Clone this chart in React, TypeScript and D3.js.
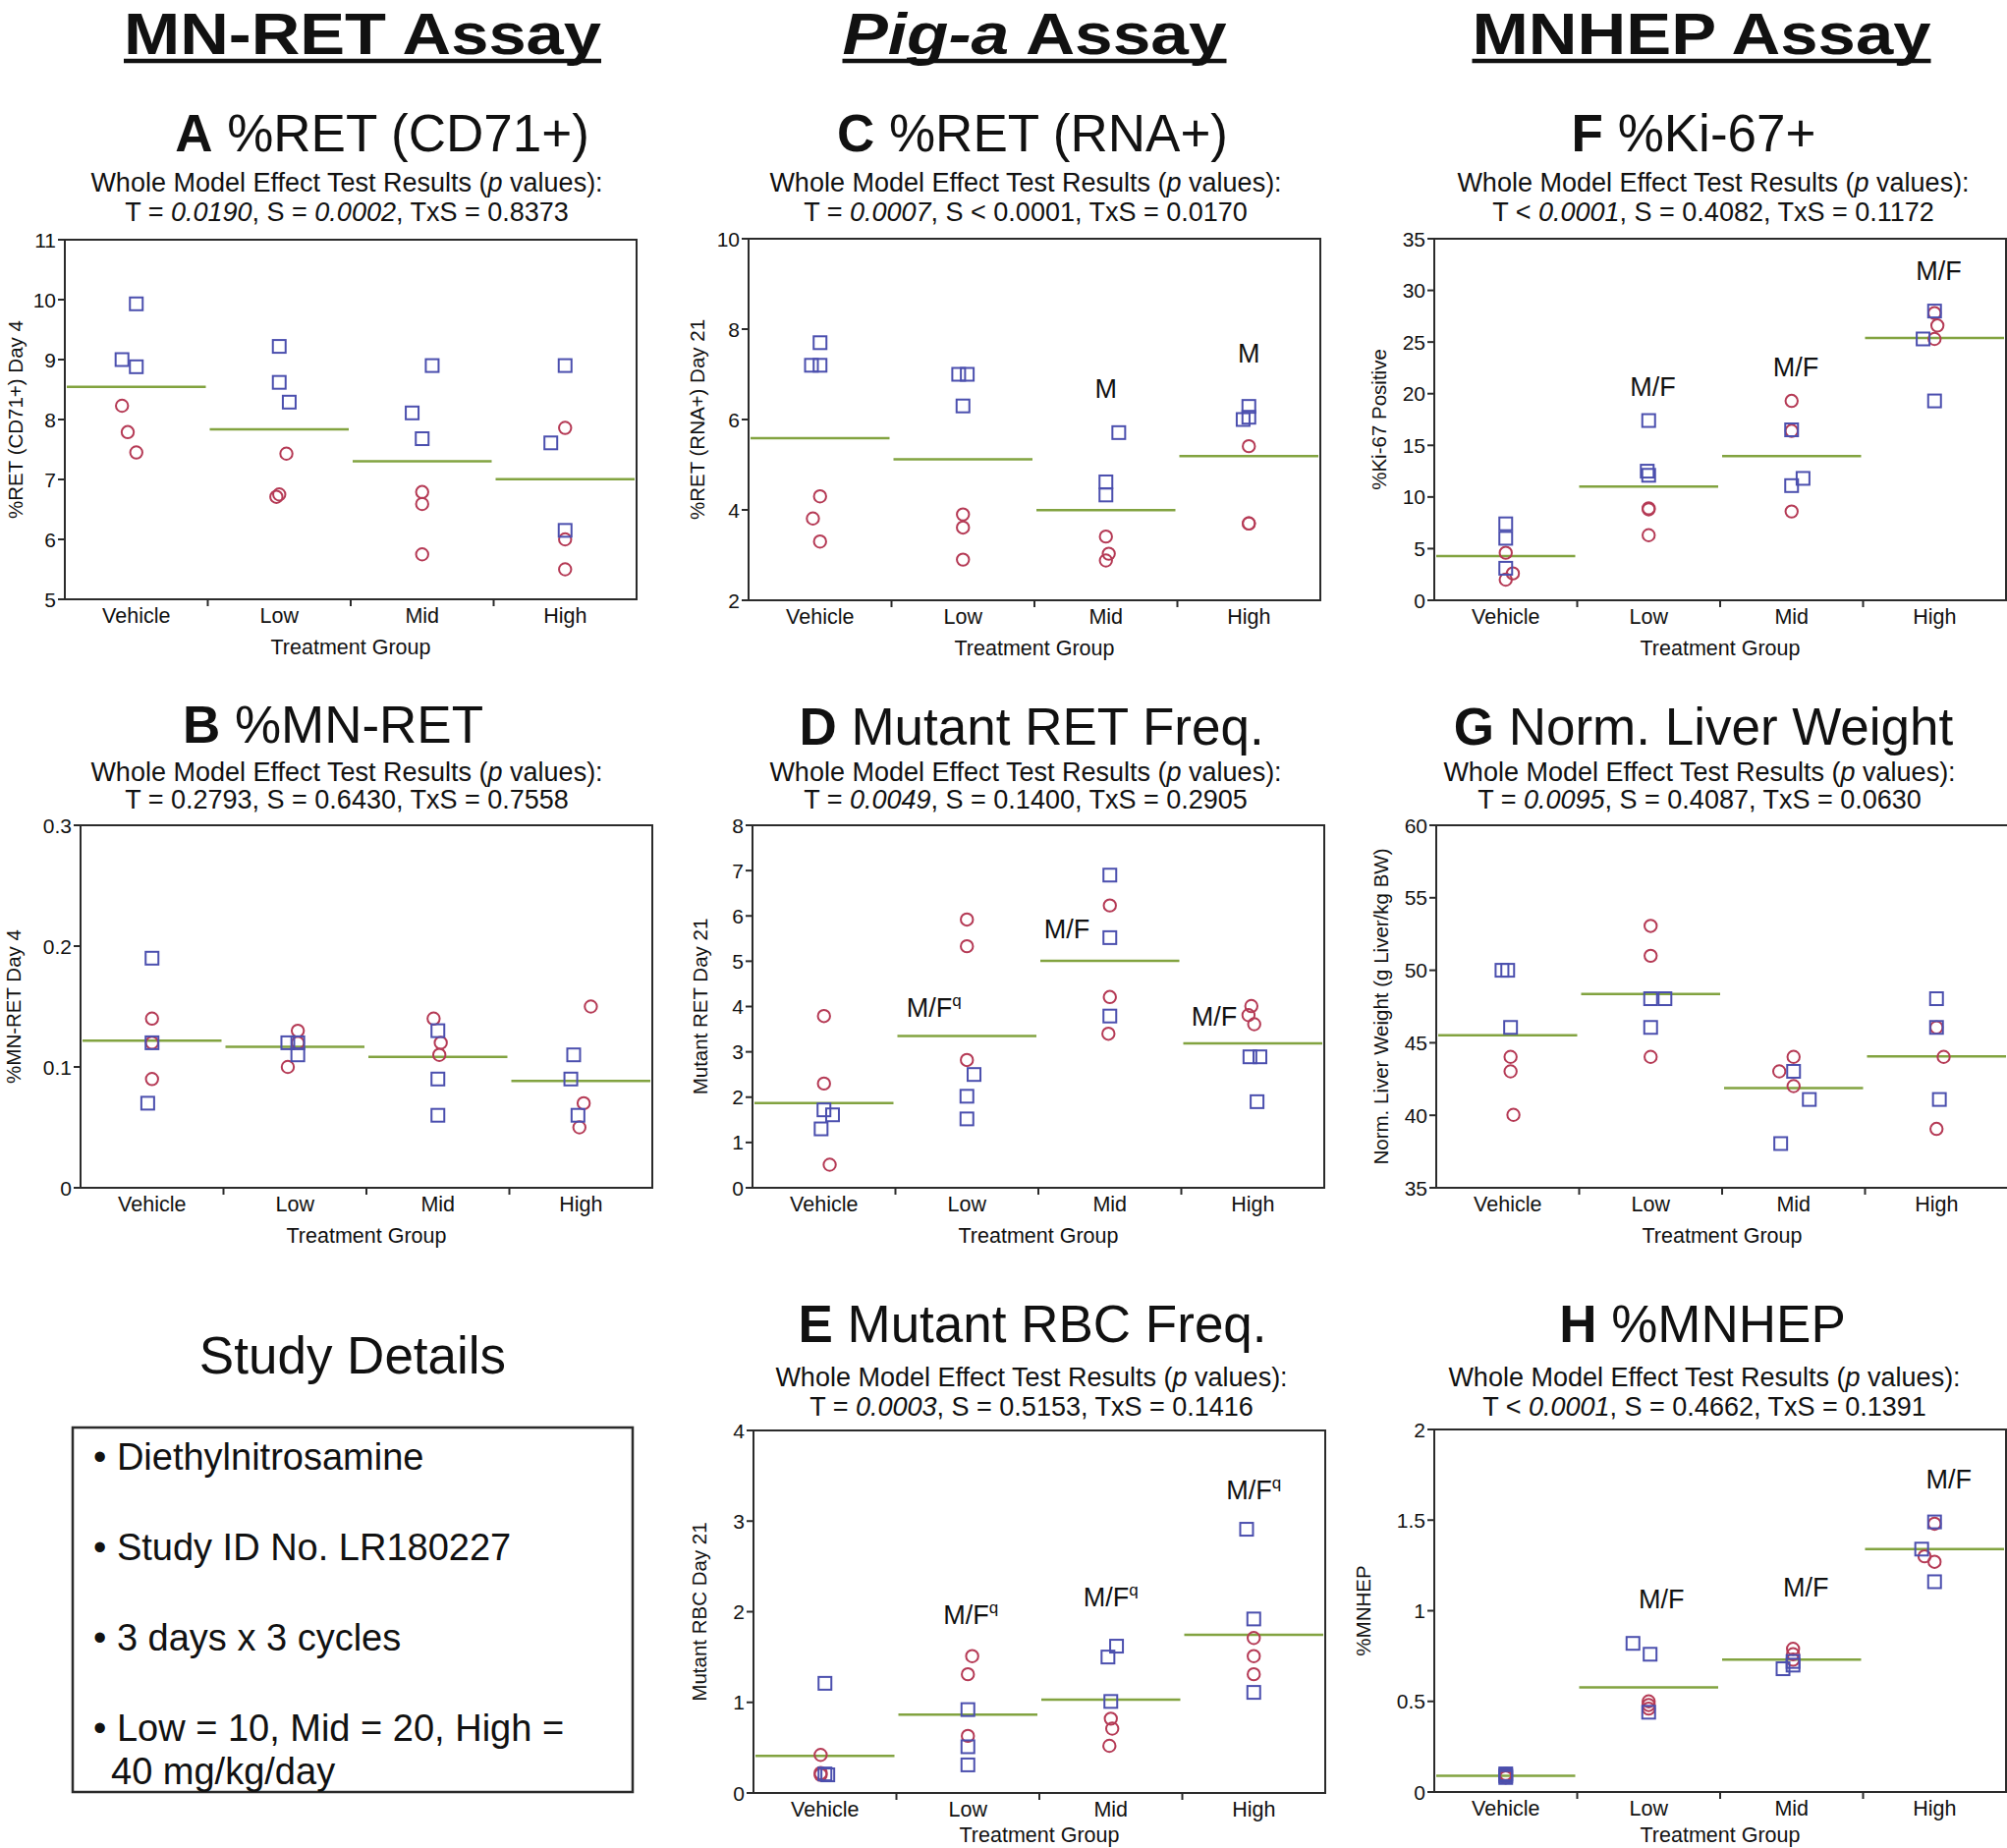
import React from 'react';
import * as d3 from 'd3';

// ---------------- DATA ----------------
const groups = ['Vehicle', 'Low', 'Mid', 'High'];

// Panel A: %RET (CD71+) Day 4
const aMale = [[9.93, 9.0, 8.88], [9.22, 8.62, 8.29], [8.9, 8.11, 7.68], [8.9, 7.61, 6.15]];
const aFemale = [[8.23, 7.79, 7.45], [7.43, 6.75, 6.71], [6.79, 6.59, 5.75], [7.86, 6.0, 5.5]];
const aMaleJit = [[0, -0.1, 0], [0, 0, 0.07], [0.07, -0.07, 0], [0, -0.1, 0]];
const aFemaleJit = [[-0.1, -0.06, 0], [0.05, 0, -0.02], [0, 0, 0], [0, 0, 0]];
const aTicks = [5, 6, 7, 8, 9, 10, 11];

// Panel B: %MN-RET Day 4
const bMale = [[0.19, 0.12, 0.07], [0.12, 0.12, 0.11], [0.13, 0.09, 0.06], [0.11, 0.09, 0.06]];
const bFemale = [[0.14, 0.12, 0.09], [0.13, 0.12, 0.1], [0.14, 0.12, 0.11], [0.15, 0.07, 0.05]];
const bMaleJit = [[0, 0, -0.03], [-0.05, 0.02, 0.02], [0, 0, 0], [-0.05, -0.07, -0.02]];
const bFemaleJit = [[0, 0, 0], [0.02, 0.02, -0.05], [-0.03, 0.02, 0.01], [0.07, 0.02, -0.01]];
const bTicks = [0, 0.1, 0.2, 0.3];

// Panel C: %RET (RNA+) Day 21
const cMale = [[7.7, 7.2, 7.2], [7.0, 7.0, 6.3], [5.71, 4.62, 4.33], [6.29, 6.05, 6.0]];
const cFemale = [[4.3, 3.81, 3.3], [3.9, 3.61, 2.9], [3.41, 3.03, 2.88], [5.41, 3.7, 3.7]];
const cMaleJit = [[0, -0.06, 0], [-0.03, 0.03, 0], [0.09, 0, 0], [0, 0, -0.04]];
const cFemaleJit = [[0, -0.05, 0], [0, 0, 0], [0, 0.02, 0], [0, 0, 0]];
const cTicks = [2, 4, 6, 8, 10];

// Panel D: Mutant RET Day 21
const dMale = [[1.72, 1.61, 1.3], [2.5, 2.02, 1.52], [6.9, 5.52, 3.79], [2.89, 2.89, 1.9]];
const dFemale = [[3.79, 2.3, 0.51], [5.92, 5.33, 2.82], [6.23, 4.21, 3.4], [4.01, 3.81, 3.61]];
const dMaleJit = [[0, 0.06, -0.02], [0.05, 0, 0], [0, 0, 0], [-0.02, 0.05, 0.03]];
const dFemaleJit = [[0, 0, 0.04], [0, 0, 0], [0, 0, -0.01], [-0.01, -0.03, 0.01]];
const dTicks = [0, 1, 2, 3, 4, 5, 6, 7, 8];

// Panel E: Mutant RBC Day 21
const eMale = [[1.21, 0.21, 0.2], [0.92, 0.51, 0.31], [1.62, 1.5, 1.01], [2.91, 1.92, 1.11]];
const eFemale = [[0.42, 0.22, 0.2], [1.51, 1.31, 0.63], [0.82, 0.71, 0.52], [1.71, 1.51, 1.31]];
const eMaleJit = [[0, 0, 0.02], [0, 0, 0], [0.04, -0.02, 0], [-0.05, 0, 0]];
const eFemaleJit = [[-0.03, -0.03, -0.03], [0.03, 0, 0], [0, 0.01, -0.01], [0, 0, 0]];
const eTicks = [0, 1, 2, 3, 4];

// Panel F: %Ki-67 Positive
const fMale = [[7.4, 6.0, 3.1], [17.4, 12.5, 12.1], [16.5, 11.8, 11.1], [28.0, 25.3, 19.3]];
const fFemale = [[4.6, 2.6, 2.0], [8.9, 8.8, 6.3], [19.3, 16.4, 8.6], [27.8, 26.6, 25.3]];
const fMaleJit = [[0, 0, 0], [0, -0.01, 0], [0, 0.08, 0], [0, -0.08, 0]];
const fFemaleJit = [[0, 0.05, 0], [0, 0, 0], [0, 0, 0], [0, 0.02, 0]];
const fTicks = [0, 5, 10, 15, 20, 25, 30, 35];

// Panel G: Norm. Liver Weight
const gMale = [[50.0, 50.0, 46.06], [48.04, 48.04, 46.06], [43.03, 41.09, 38.05], [48.04, 46.06, 41.09]];
const gFemale = [[44.03, 43.03, 40.03], [53.06, 51.0, 44.03], [44.03, 43.03, 42.01], [46.06, 44.03, 39.06]];
const gMaleJit = [[-0.04, 0, 0.02], [0, 0.1, 0], [0, 0.11, -0.09], [0, 0, 0.02]];
const gFemaleJit = [[0.02, 0.02, 0.04], [0, 0, 0], [0, -0.1, 0], [0, 0.05, 0]];
const gTicks = [35, 40, 45, 50, 55, 60];

// Panel H: %MNHEP
const hMale = [[0.08, 0.09, 0.1], [0.82, 0.76, 0.44], [0.68, 0.7, 0.72], [1.49, 1.34, 1.16]];
const hFemale = [[0.1, 0.09, 0.08], [0.5, 0.48, 0.46], [0.79, 0.76, 0.73], [1.48, 1.3, 1.27]];
const hMaleJit = [[0, 0, 0], [-0.11, 0.01, 0], [-0.06, 0.01, 0.01], [0, -0.09, 0]];
const hFemaleJit = [[0, 0, 0], [0, 0, 0], [0.01, 0.01, 0.01], [0, -0.07, 0]];
const hTicks = [0, 0.5, 1, 1.5, 2];

// Significance annotations: [group index, text, superscript, y value, x offset in bands]
const cNotes = [[2, 'M', '', 6.47, 0], [3, 'M', '', 7.27, 0]];
const dNotes = [[1, 'M/F', 'q', 3.78, -0.23], [2, 'M/F', '', 5.5, -0.3], [3, 'M/F', '', 3.58, -0.27]];
const eNotes = [[1, 'M/F', 'q', 1.86, 0.02], [2, 'M/F', 'q', 2.06, 0], [3, 'M/F', 'q', 3.24, 0]];
const fNotes = [[1, 'M/F', '', 19.8, 0.03], [2, 'M/F', '', 21.7, 0.03], [3, 'M/F', '', 31.0, 0.03]];
const hNotes = [[1, 'M/F', '', 1.016, 0.09], [2, 'M/F', '', 1.08, 0.1], [3, 'M/F', '', 1.675, 0.1]];

// p-value lines: [text, italic]
const aP = [['T = ', 0], ['0.0190', 1], [', S = ', 0], ['0.0002', 1], [', TxS = 0.8373', 0]];
const bP = [['T = 0.2793, S = 0.6430, TxS = 0.7558', 0]];
const cP = [['T = ', 0], ['0.0007', 1], [', S < 0.0001, TxS = 0.0170', 0]];
const dP = [['T = ', 0], ['0.0049', 1], [', S = 0.1400, TxS = 0.2905', 0]];
const eP = [['T = ', 0], ['0.0003', 1], [', S = 0.5153, TxS = 0.1416', 0]];
const fP = [['T < ', 0], ['0.0001', 1], [', S = 0.4082, TxS = 0.1172', 0]];
const gP = [['T = ', 0], ['0.0095', 1], [', S = 0.4087, TxS = 0.0630', 0]];
const hP = [['T < ', 0], ['0.0001', 1], [', S = 0.4662, TxS = 0.1391', 0]];

const headers = ['MN-RET Assay', 'Pig-a Assay', 'MNHEP Assay'];
const studyLines = ['Diethylnitrosamine', 'Study ID No. LR180227', '3 days x 3 cycles', 'Low = 10, Mid = 20, High ='];
const studyCont = '40 mg/kg/day';

// ---------------- STYLE / LAYOUT ----------------
const W = 2043;
const H = 1881;
const FONT = '"Liberation Sans", Arial, Helvetica, sans-serif';
const BLUE = '#4b4fae';
const RED = '#b53a55';
const GREEN = '#82a340';
const FRAME = '#2b2b2b';
const PW = 582;

const panels = [
  { letter: 'A', title: '%RET (CD71+)', ylabel: '%RET (CD71+) Day 4', domain: [5, 11], ticks: aTicks, male: aMale, female: aFemale, mj: aMaleJit, fj: aFemaleJit, p: aP, notes: [],
    left: 66, top: 244, bottom: 610, tcx: 389, ty: 154, scx: 353, s1: 195, s2: 225, yl: 50, xt: 56 },
  { letter: 'B', title: '%MN-RET', ylabel: '%MN-RET Day 4', domain: [0, 0.3], ticks: bTicks, male: bMale, female: bFemale, mj: bMaleJit, fj: bFemaleJit, p: bP, notes: [],
    left: 82, top: 840, bottom: 1209, tcx: 339, ty: 756, scx: 353, s1: 795, s2: 823, yl: 68, xt: 56 },
  { letter: 'C', title: '%RET (RNA+)', ylabel: '%RET (RNA+) Day 21', domain: [2, 10], ticks: cTicks, male: cMale, female: cFemale, mj: cMaleJit, fj: cFemaleJit, p: cP, notes: cNotes,
    left: 762, top: 243, bottom: 611, tcx: 1051, ty: 154, scx: 1044, s1: 195, s2: 225, yl: 52, xt: 56 },
  { letter: 'D', title: 'Mutant RET Freq.', ylabel: 'Mutant RET Day 21', domain: [0, 8], ticks: dTicks, male: dMale, female: dFemale, mj: dMaleJit, fj: dFemaleJit, p: dP, notes: dNotes,
    left: 766, top: 840, bottom: 1209, tcx: 1050, ty: 758, scx: 1044, s1: 795, s2: 823, yl: 53, xt: 56 },
  { letter: 'E', title: 'Mutant RBC Freq.', ylabel: 'Mutant RBC Day 21', domain: [0, 4], ticks: eTicks, male: eMale, female: eFemale, mj: eMaleJit, fj: eFemaleJit, p: eP, notes: eNotes,
    left: 767, top: 1456, bottom: 1825, tcx: 1051, ty: 1366, scx: 1050, s1: 1411, s2: 1441, yl: 55, xt: 50 },
  { letter: 'F', title: '%Ki-67+', ylabel: '%Ki-67 Positive', domain: [0, 35], ticks: fTicks, male: fMale, female: fFemale, mj: fMaleJit, fj: fFemaleJit, p: fP, notes: fNotes,
    left: 1460, top: 243, bottom: 611, tcx: 1724, ty: 154, scx: 1744, s1: 195, s2: 225, yl: 56, xt: 56 },
  { letter: 'G', title: 'Norm. Liver Weight', ylabel: 'Norm. Liver Weight (g Liver/kg BW)', domain: [35, 60], ticks: gTicks, male: gMale, female: gFemale, mj: gMaleJit, fj: gFemaleJit, p: gP, notes: [],
    left: 1462, top: 840, bottom: 1209, tcx: 1734, ty: 758, scx: 1730, s1: 795, s2: 823, yl: 56, xt: 56 },
  { letter: 'H', title: '%MNHEP', ylabel: '%MNHEP', domain: [0, 2], ticks: hTicks, male: hMale, female: hFemale, mj: hMaleJit, fj: hFemaleJit, p: hP, notes: hNotes,
    left: 1460, top: 1455, bottom: 1824, tcx: 1733, ty: 1366, scx: 1735, s1: 1411, s2: 1441, yl: 72, xt: 51 },
];

function Panel({ p }: { p: any }) {
  const x = d3.scaleBand<string>().domain(groups).range([p.left, p.left + PW]);
  const y = d3.scaleLinear().domain(p.domain).range([p.bottom, p.top]);
  const bw = x.bandwidth();
  const cx = (i: number) => (x(groups[i]) as number) + bw / 2;
  const means = groups.map((_, i) => d3.mean([...p.male[i], ...p.female[i]]) as number);
  const sq = 13;
  return (
    <g fontFamily={FONT}>
      {/* Title */}
      <text x={p.tcx} y={p.ty} textAnchor="middle" fontSize={53} fill="#111">
        <tspan fontWeight="bold">{p.letter}</tspan>
        <tspan>{'\u00a0' + p.title}</tspan>
      </text>
      <text x={p.scx} y={p.s1} textAnchor="middle" fontSize={27} fill="#111">
        <tspan>Whole Model Effect Test Results (</tspan>
        <tspan fontStyle="italic">p</tspan>
        <tspan> values):</tspan>
      </text>
      <text x={p.scx} y={p.s2} textAnchor="middle" fontSize={27} fill="#111">
        {p.p.map((s: any, k: number) => (
          <tspan key={k} fontStyle={s[1] ? 'italic' : 'normal'}>{s[0]}</tspan>
        ))}
      </text>

      {/* Mean lines */}
      {groups.map((g, i) => (
        <line key={'m' + g} x1={(x(g) as number) + 2} x2={(x(g) as number) + bw - 2} y1={y(means[i])} y2={y(means[i])}
          stroke={GREEN} strokeWidth={2.5} />
      ))}

      {/* Points */}
      {groups.map((g, i) => (
        <g key={'pts' + g}>
          {p.female[i].map((v: number, k: number) => (
            <circle key={'f' + k} cx={cx(i) + p.fj[i][k] * bw} cy={y(v)} r={6.2} fill="none" stroke={RED} strokeWidth={2} />
          ))}
          {p.male[i].map((v: number, k: number) => (
            <rect key={'m' + k} x={cx(i) + p.mj[i][k] * bw - sq / 2} y={y(v) - sq / 2} width={sq} height={sq}
              fill="none" stroke={BLUE} strokeWidth={2} />
          ))}
        </g>
      ))}

      {/* Annotations */}
      {p.notes.map((n: any, k: number) => (
        <text key={'n' + k} x={cx(n[0]) + n[4] * bw} y={y(n[3])} textAnchor="middle" fontSize={27} fill="#111">
          <tspan>{n[1]}</tspan>
          {n[2] ? <tspan fontSize={17} dy={-11}>{n[2]}</tspan> : null}
        </text>
      ))}

      {/* Frame */}
      <rect x={p.left} y={p.top} width={PW} height={p.bottom - p.top} fill="none" stroke={FRAME} strokeWidth={2} />

      {/* Y axis ticks */}
      {p.ticks.map((t: number) => (
        <g key={'t' + t}>
          <line x1={p.left - 7} x2={p.left} y1={y(t)} y2={y(t)} stroke={FRAME} strokeWidth={2} />
          <text x={p.left - 9} y={y(t)} dy="0.36em" textAnchor="end" fontSize={21} fill="#111">{String(t)}</text>
        </g>
      ))}

      {/* X axis ticks at group boundaries */}
      {groups.slice(1).map((g) => (
        <line key={'xt' + g} x1={x(g)} x2={x(g)} y1={p.bottom} y2={p.bottom + 7} stroke={FRAME} strokeWidth={2} />
      ))}
      {groups.map((g, i) => (
        <text key={'xl' + g} x={cx(i)} y={p.bottom + 24} textAnchor="middle" fontSize={21.5} fill="#111">{g}</text>
      ))}
      <text x={p.left + PW / 2} y={p.bottom + p.xt} textAnchor="middle" fontSize={21.5} fill="#111">Treatment Group</text>

      {/* Y label */}
      <text transform={`translate(${p.left - p.yl},${(p.top + p.bottom) / 2}) rotate(-90)`} textAnchor="middle" dy="0.35em"
        fontSize={20.5} fill="#111">{p.ylabel}</text>
    </g>
  );
}

const headerPos = [
  { cx: 369, w: 486, italicPart: '' },
  { cx: 1053, w: 391, italicPart: 'Pig-a' },
  { cx: 1732, w: 467, italicPart: '' },
];

export default function App() {
  return (
    <svg width={W} height={H} viewBox={`0 0 ${W} ${H}`} style={{ position: 'absolute', left: 0, top: 0, display: 'block', background: '#fff' }}
      xmlns="http://www.w3.org/2000/svg">
      <rect x={0} y={0} width={W} height={H} fill="#fff" />
      {/* Column headers */}
      {headers.map((h, i) => {
        const hp = headerPos[i];
        const it = hp.italicPart && h.startsWith(hp.italicPart);
        return (
          <g key={h} fontFamily={FONT}>
            <text x={hp.cx} y={55} textAnchor="middle" fontSize={60} fontWeight="bold" fill="#111"
              textLength={hp.w} lengthAdjust="spacingAndGlyphs">
              {it ? (
                <>
                  <tspan fontStyle="italic">{hp.italicPart}</tspan>
                  <tspan>{h.slice(hp.italicPart.length)}</tspan>
                </>
              ) : h}
            </text>
            <line x1={hp.cx - hp.w / 2} x2={hp.cx + hp.w / 2} y1={62} y2={62} stroke="#111" strokeWidth={4.5} />
          </g>
        );
      })}

      {panels.map((p) => <Panel key={p.letter} p={p} />)}

      {/* Study details */}
      <g fontFamily={FONT} fill="#111">
        <text x={359} y={1398} textAnchor="middle" fontSize={53}>Study Details</text>
        <rect x={74} y={1453} width={570} height={371} fill="none" stroke={FRAME} strokeWidth={2.5} />
        {studyLines.map((s, i) => (
          <text key={s} x={95} y={1496 + i * 92} fontSize={38}>
            <tspan>{'\u2022 '}</tspan>
            <tspan>{s}</tspan>
          </text>
        ))}
        <text x={113} y={1816} fontSize={38}>{studyCont}</text>
      </g>
    </svg>
  );
}
